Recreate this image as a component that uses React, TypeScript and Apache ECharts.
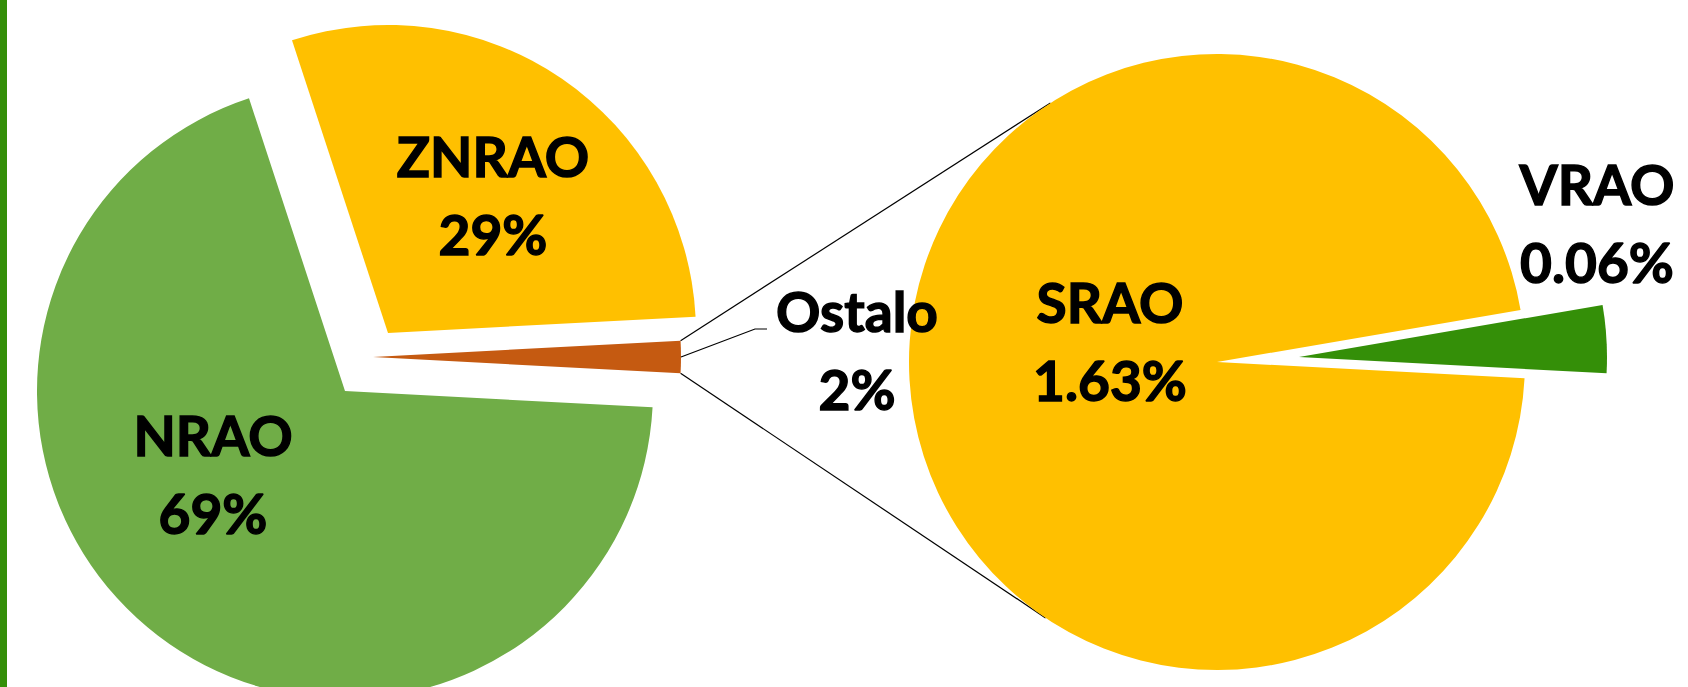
import React, { useEffect, useRef } from 'react';
import * as echarts from 'echarts';

// ---- data ----
const mainCategories = ['ZNRAO', 'Ostalo', 'NRAO'];
const mainValues = [29.2, 1.69, 69.11];
const subCategories = ['SRAO', 'VRAO'];
const subValues = [1.63, 0.06];

// ---- styles / layout ----
const mainColors = ['#FFC000', '#C55A11', '#70AD47'];
const subColors = ['#FFC000', '#348F08'];
const R = 308;
const mainCenters: number[][] = [[388, 333], [373, 357], [345, 391]];
const subCenters: number[][] = [[1217, 362], [1299, 357]];
const mainLabelPos: number[][] = [[493, 195], [857, 350], [213, 474]];
const subLabelPos: number[][] = [[1110, 341], [1597, 223]];
const FONT = 'Lato';

function sum(a: number[]) { return a.reduce((s, v) => s + v, 0); }

function sliceSeries(
  names: string[], values: number[], colors: string[], idx: number,
  center: number[], startAngle: number, labelPos: number[], fmt: (v: number) => string
) {
  return {
    type: 'pie',
    radius: R,
    center,
    startAngle,
    clockwise: true,
    silent: true,
    avoidLabelOverlap: false,
    label: {
      show: true,
      position: 'inside',
      color: '#000',
      fontFamily: FONT,
      fontWeight: 'bold',
      fontSize: 55,
      lineHeight: 78,
      textBorderColor: '#000',
      textBorderWidth: 1.4,
      formatter: (p: any) => `${p.name}\n${fmt(p.value)}%`,
    },
    labelLine: { show: false },
    labelLayout: { x: labelPos[0], y: labelPos[1], align: 'center', verticalAlign: 'middle' },
    itemStyle: { borderWidth: 0 },
    data: names.map((n, i) => ({
      name: n,
      value: values[i],
      itemStyle: { color: i === idx ? colors[i] : 'rgba(0,0,0,0)' },
      label: { show: i === idx },
    })),
  };
}

function tangentPoint(P: number[], C: number[], r: number, upper: boolean) {
  const dx = P[0] - C[0], dy = P[1] - C[1];
  const d = Math.hypot(dx, dy);
  const base = Math.atan2(dy, dx);
  const t = Math.acos(r / d);
  const a1 = base + t, a2 = base - t;
  const p1 = [C[0] + r * Math.cos(a1), C[1] + r * Math.sin(a1)];
  const p2 = [C[0] + r * Math.cos(a2), C[1] + r * Math.sin(a2)];
  if (upper) return p1[1] < p2[1] ? p1 : p2;
  return p1[1] > p2[1] ? p1 : p2;
}

export default function App() {
  const ref = useRef<HTMLDivElement>(null);
  useEffect(() => {
    if (!ref.current) return;
    const chart = echarts.init(ref.current, undefined, { renderer: 'svg' });
    const mainTotal = sum(mainValues);
    // Ostalo slice centred on 0 degrees
    const mainStart = (mainValues[0] / mainTotal) * 360 + (mainValues[1] / mainTotal) * 180;
    const ostaloHalf = (mainValues[1] / mainTotal) * 180;
    const subStart = 360 - ostaloHalf;

    const series: any[] = [];
    mainCategories.forEach((_, i) => {
      series.push(sliceSeries(mainCategories, mainValues, mainColors, i, mainCenters[i], mainStart, mainLabelPos[i], (v) => String(Math.round(v))));
    });
    subCategories.forEach((_, i) => {
      series.push(sliceSeries(subCategories, subValues, subColors, i, subCenters[i], subStart, subLabelPos[i], (v) => v.toFixed(2)));
    });

    // connector lines from Ostalo slice corners to tangent points of the second pie
    const oc = mainCenters[1];
    const a = (ostaloHalf * Math.PI) / 180;
    const topCorner = [oc[0] + R * Math.cos(a), oc[1] - R * Math.sin(a)];
    const botCorner = [oc[0] + R * Math.cos(a), oc[1] + R * Math.sin(a)];
    const sc = subCenters[0];
    const topT = tangentPoint(topCorner, sc, R, true);
    const botT = tangentPoint(botCorner, sc, R, false);
    const midArc = [oc[0] + R, oc[1]];

    chart.setOption({
      animation: false,
      backgroundColor: '#ffffff',
      series,
      graphic: [
        { type: 'rect', shape: { x: 0, y: 0, width: 7, height: 687 }, style: { fill: '#348F08' }, silent: true },
        { type: 'line', shape: { x1: topCorner[0], y1: topCorner[1], x2: topT[0], y2: topT[1] }, style: { stroke: '#000', lineWidth: 1.2 }, silent: true },
        { type: 'line', shape: { x1: botCorner[0], y1: botCorner[1], x2: botT[0], y2: botT[1] }, style: { stroke: '#000', lineWidth: 1.2 }, silent: true },
        { type: 'polyline', shape: { points: [midArc, [755, 329], [767, 329]] }, style: { stroke: '#000', lineWidth: 1.2, fill: 'none' }, silent: true },
      ],
    });
    return () => chart.dispose();
  }, []);
  return <div ref={ref} style={{ position: 'fixed', left: 0, top: 0, width: 1688, height: 687 }} />;
}
